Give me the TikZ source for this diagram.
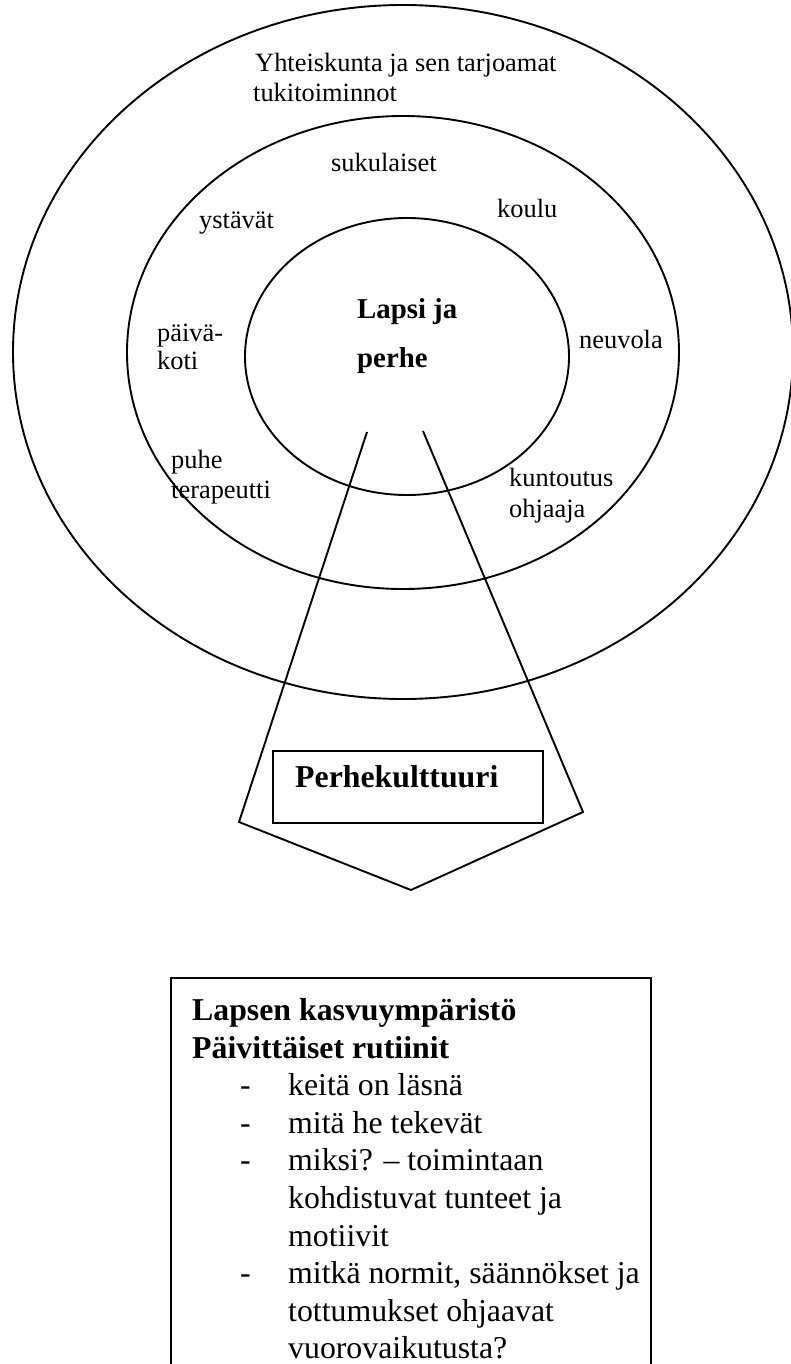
\documentclass[tikz,border=0pt]{standalone}
\usepackage{fontspec}
\setmainfont{Liberation Serif}
\begin{document}
\begin{tikzpicture}[x=1pt,y=-1pt,
  ring/.style={draw=black,line width=1.9pt},
  lab/.style={anchor=base west,inner sep=0pt,font=\fontsize{26.4}{30}\selectfont},
  clab/.style={anchor=base west,inner sep=0pt,font=\fontsize{28.8}{34}\selectfont\bfseries},
  blab/.style={anchor=base west,inner sep=0pt,font=\fontsize{31.8}{37}\selectfont\bfseries},
  boxt/.style={anchor=base west,inner sep=0pt,font=\fontsize{31.8}{37}\selectfont},
  conn/.style={draw=black,line width=1.9pt}]
\useasboundingbox (0,0) rectangle (791,1364);
\fill[white] (0,0) rectangle (791,1364);
% rings
\draw[ring] (403,352) ellipse [x radius=390pt, y radius=347pt];
\draw[ring] (403,352.5) ellipse [x radius=276pt, y radius=236.5pt];
\draw[ring] (407,356.5) ellipse [x radius=162pt, y radius=138.5pt];
% ring labels
\node[lab] (y1) at (255,72) {Yhteiskunta ja sen tarjoamat};
\node[lab] (y2) at (253,102) {tukitoiminnot};
\node[lab] (suk) at (331,172) {sukulaiset};
\node[lab] (yst) at (199,229) {ystävät};
\node[lab] (kou) at (497,218) {koulu};
\node[clab] (lp1) at (357,318) {Lapsi ja};
\node[clab] (lp2) at (357,367) {perhe};
\node[lab] (pv1) at (157,341) {päivä-};
\node[lab] (pv2) at (157,369) {koti};
\node[lab] (neu) at (579,348) {neuvola};
\node[lab] (ph1) at (171,468) {puhe};
\node[lab] (ph2) at (171,498) {terapeutti};
\node[lab] (ku1) at (509,486) {kuntoutus};
\node[lab] (ku2) at (509,517) {ohjaaja};
% funnel
\coordinate (lt) at (367,432);
\coordinate (lb) at (239,822);
\coordinate (vb) at (411,890);
\coordinate (rb) at (583,812);
\coordinate (rt) at (423,431);
\draw[conn] (lt) -- (lb) -- (vb) -- (rb) -- (rt);
% Perhekulttuuri box
\node[draw=black,line width=1.9pt,minimum width=270pt,minimum height=72pt,inner sep=0pt] (pkbox) at (408,787) {};
\node[blab] (pk) at (295,787) {Perhekulttuuri};
% bottom box
\coordinate (bl) at (171,1370);
\coordinate (tl) at (171,978);
\coordinate (tr) at (651,978);
\coordinate (br) at (651,1370);
\draw[conn] (bl) -- (tl) -- (tr) -- (br);
\node[blab] (h1) at (192,1020) {Lapsen kasvuympäristö};
\node[blab] (h2) at (192,1058) {Päivittäiset rutiinit};
\node[boxt] (d1) at (240,1095) {-};
\node[boxt] (t1) at (288,1095) {keitä on läsnä};
\node[boxt] (d2) at (240,1133) {-};
\node[boxt] (t2) at (288,1133) {mitä he tekevät};
\node[boxt] (d3) at (240,1170) {-};
\node[boxt] (t3) at (288,1170) {miksi? – toimintaan};
\node[boxt] (t3b) at (288,1208) {kohdistuvat tunteet ja};
\node[boxt] (t3c) at (288,1246) {motiivit};
\node[boxt] (d4) at (240,1283) {-};
\node[boxt] (t4) at (288,1283) {mitkä normit, säännökset ja};
\node[boxt] (t4b) at (288,1321) {tottumukset ohjaavat};
\node[boxt] (t4c) at (288,1358) {vuorovaikutusta?};
\end{tikzpicture}
\end{document}
